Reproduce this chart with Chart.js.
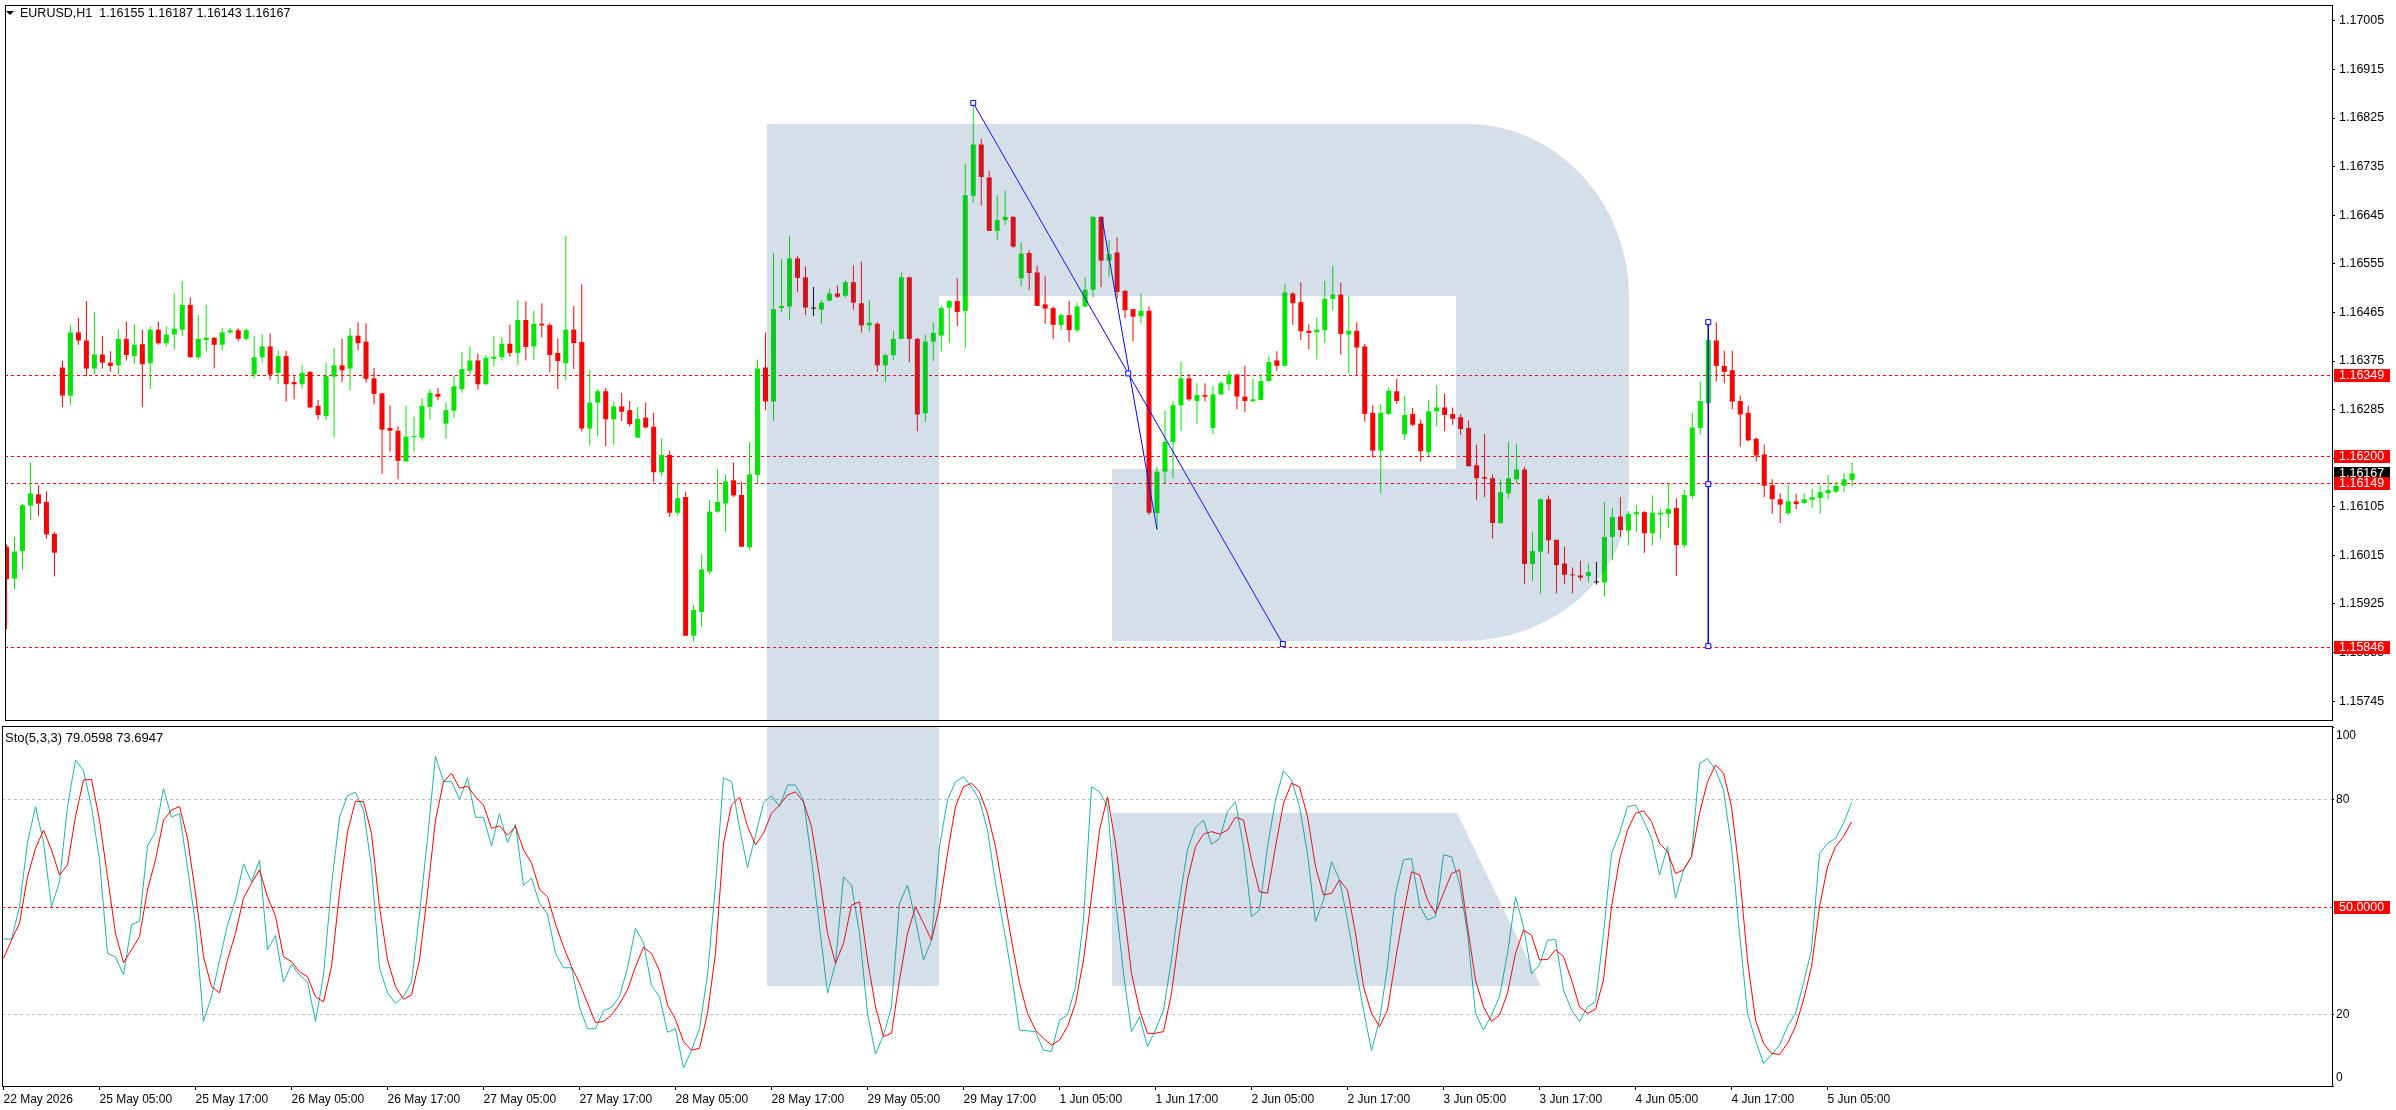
<!DOCTYPE html>
<html>
<head>
<meta charset="utf-8">
<script src="https://cdn.jsdelivr.net/npm/chart.js@4.4.1/dist/chart.umd.min.js"></script>
<style>
    html, body { margin: 0; padding: 0; background: #fff; }
    #wrap { position: relative; width: 2396px; height: 1110px; overflow: hidden; background: #fff; }
    canvas { position: absolute; left: 0; }
    #priceChart { top: 0; }
    #stochChart { top: 725px; }
</style>
</head>
<body>
<div id="wrap">
    <canvas id="priceChart" width="2396" height="725"></canvas>
    <canvas id="stochChart" width="2396" height="385"></canvas>
</div>
<script>
// EURUSD H1 candles, 22 May 17:00 .. 5 Jun 08:00
const symbolName = 'EURUSD,H1';
const open = [
    1.16031,1.15972,1.16023,1.16107,1.16128,1.16114,1.16055,1.16363,1.16311,1.16428,
    1.16413,1.16361,1.16387,1.16372,1.16367,1.16416,1.16384,1.16406,1.16371,1.16433,
    1.16408,1.16424,1.16433,1.16479,1.16382,1.16414,1.16418,1.16405,1.16428,1.16432,
    1.16416,1.16350,1.16382,1.16402,1.16353,1.16384,1.16336,1.16332,1.16355,1.16292,
    1.16273,1.16346,1.16367,1.16361,1.16422,1.16411,1.16343,1.16315,1.16251,1.16246,
    1.16189,1.16234,1.16233,1.16290,1.16314,1.16259,1.16283,1.16323,1.16357,1.16376,
    1.16332,1.16379,1.16382,1.16407,1.16390,1.16451,1.16402,1.16444,1.16442,1.16390,
    1.16371,1.16433,1.16410,1.16250,1.16298,1.16319,1.16267,1.16291,1.16284,1.16233,
    1.16270,1.16253,1.16169,1.16201,1.16094,1.16123,1.15866,1.15910,1.15985,1.16096,
    1.16111,1.16154,1.16127,1.16030,1.16164,1.16363,1.16300,1.16473,1.16476,1.16565,
    1.16530,1.16472,1.16470,1.16487,1.16500,1.16496,1.16521,1.16482,1.16441,1.16444,
    1.16367,1.16386,1.16416,1.16530,1.16416,1.16278,1.16411,1.16422,1.16474,1.16486,
    1.16468,1.16681,1.16776,1.16715,1.16616,1.16636,1.16642,1.16528,1.16575,1.16539,
    1.16480,1.16473,1.16442,1.16460,1.16432,1.16476,1.16507,1.16642,1.16561,1.16576,
    1.16505,1.16471,1.16458,1.16468,1.16093,1.16170,1.16225,1.16293,1.16343,1.16301,
    1.16312,1.16251,1.16313,1.16332,1.16350,1.16309,1.16301,1.16303,1.16338,1.16376,
    1.16366,1.16500,1.16484,1.16431,1.16428,1.16432,1.16490,1.16498,1.16424,1.16431,
    1.16402,1.16279,1.16209,1.16277,1.16319,1.16239,1.16277,1.16259,1.16206,1.16282,
    1.16289,1.16277,1.16271,1.16251,1.16182,1.16160,1.16158,1.16075,1.16130,1.16156,
    1.16174,1.15999,1.16022,1.16119,1.16044,1.16000,1.15979,1.15978,1.15977,1.15965,
    1.15965,1.16049,1.16087,1.16061,1.16091,1.16095,1.16056,1.16091,1.16092,1.16103,
    1.16034,1.16125,1.16251,1.16297,1.16413,1.16366,1.16358,1.16301,1.16279,1.16231,
    1.16202,1.16145,1.16119,1.16093,1.16115,1.16112,1.16118,1.16121,1.16130,1.16133,
    1.16144,1.16155
];
const high = [
    1.16035,1.16049,1.16110,1.16187,1.16145,1.16134,1.16059,1.16376,1.16442,1.16455,
    1.16486,1.16466,1.16422,1.16393,1.16433,1.16448,1.16444,1.16433,1.16439,1.16448,
    1.16439,1.16500,1.16523,1.16493,1.16460,1.16479,1.16419,1.16436,1.16436,1.16436,
    1.16435,1.16422,1.16424,1.16426,1.16394,1.16394,1.16347,1.16367,1.16356,1.16303,
    1.16372,1.16399,1.16416,1.16436,1.16447,1.16445,1.16362,1.16316,1.16293,1.16254,
    1.16292,1.16272,1.16306,1.16323,1.16325,1.16298,1.16347,1.16392,1.16402,1.16389,
    1.16386,1.16421,1.16419,1.16442,1.16488,1.16485,1.16468,1.16482,1.16445,1.16417,
    1.16606,1.16477,1.16517,1.16358,1.16323,1.16325,1.16300,1.16316,1.16301,1.16290,
    1.16298,1.16279,1.16231,1.16209,1.16148,1.16133,1.15923,1.16017,1.16118,1.16174,
    1.16165,1.16187,1.16152,1.16225,1.16378,1.16428,1.16575,1.16564,1.16607,1.16570,
    1.16550,1.16512,1.16488,1.16509,1.16515,1.16526,1.16552,1.16559,1.16488,1.16447,
    1.16389,1.16431,1.16539,1.16531,1.16418,1.16424,1.16447,1.16478,1.16488,1.16528,
    1.16741,1.16853,1.16786,1.16727,1.16682,1.16691,1.16644,1.16595,1.16580,1.16552,
    1.16532,1.16476,1.16463,1.16486,1.16483,1.16530,1.16644,1.16644,1.16598,1.16604,
    1.16506,1.16471,1.16500,1.16476,1.16179,1.16284,1.16301,1.16374,1.16351,1.16334,
    1.16334,1.16329,1.16338,1.16356,1.16350,1.16366,1.16342,1.16350,1.16385,1.16393,
    1.16518,1.16503,1.16521,1.16443,1.16456,1.16523,1.16552,1.16520,1.16495,1.16447,
    1.16407,1.16293,1.16295,1.16326,1.16342,1.16310,1.16288,1.16266,1.16303,1.16330,
    1.16315,1.16289,1.16277,1.16265,1.16220,1.16240,1.16165,1.16156,1.16226,1.16222,
    1.16179,1.16058,1.16121,1.16126,1.16044,1.16031,1.15993,1.16005,1.16000,1.16003,
    1.16114,1.16103,1.16123,1.16097,1.16108,1.16097,1.16126,1.16101,1.16147,1.16121,
    1.16136,1.16279,1.16337,1.16445,1.16447,1.16394,1.16394,1.16311,1.16292,1.16234,
    1.16220,1.16156,1.16130,1.16145,1.16129,1.16130,1.16138,1.16145,1.16164,1.16152,
    1.16167,1.16187
];
const low = [
    1.15878,1.15952,1.15989,1.16081,1.16088,1.16046,1.15976,1.16290,1.16294,1.16405,
    1.16347,1.16350,1.16361,1.16355,1.16350,1.16376,1.16369,1.16290,1.16323,1.16405,
    1.16402,1.16396,1.16421,1.16382,1.16378,1.16393,1.16361,1.16395,1.16425,1.16411,
    1.16413,1.16343,1.16372,1.16340,1.16332,1.16300,1.16304,1.16324,1.16287,1.16267,
    1.16266,1.16234,1.16336,1.16321,1.16395,1.16335,1.16295,1.16166,1.16207,1.16156,
    1.16189,1.16208,1.16228,1.16266,1.16303,1.16231,1.16270,1.16316,1.16350,1.16322,
    1.16330,1.16365,1.16376,1.16383,1.16368,1.16376,1.16377,1.16419,1.16354,1.16323,
    1.16339,1.16360,1.16245,1.16219,1.16235,1.16217,1.16220,1.16264,1.16254,1.16233,
    1.16250,1.16151,1.16161,1.16086,1.16089,1.15866,1.15855,1.15883,1.15980,1.16094,
    1.16059,1.16123,1.16031,1.16025,1.16150,1.16284,1.16264,1.16465,1.16451,1.16503,
    1.16460,1.16459,1.16444,1.16485,1.16492,1.16492,1.16470,1.16428,1.16430,1.16355,
    1.16336,1.16377,1.16416,1.16373,1.16245,1.16262,1.16375,1.16393,1.16409,1.16440,
    1.16399,1.16668,1.16663,1.16616,1.16599,1.16627,1.16584,1.16514,1.16507,1.16477,
    1.16444,1.16416,1.16432,1.16410,1.16428,1.16474,1.16493,1.16512,1.16531,1.16490,
    1.16454,1.16411,1.16445,1.16090,1.16063,1.16149,1.16158,1.16246,1.16301,1.16259,
    1.16300,1.16240,1.16313,1.16320,1.16286,1.16280,1.16298,1.16302,1.16337,1.16356,
    1.16365,1.16442,1.16414,1.16397,1.16378,1.16409,1.16469,1.16387,1.16352,1.16347,
    1.16263,1.16196,1.16130,1.16275,1.16296,1.16229,1.16254,1.16189,1.16199,1.16254,
    1.16245,1.16257,1.16238,1.16180,1.16118,1.16123,1.16046,1.16073,1.16121,1.16149,
    1.15962,1.15968,1.15944,1.16018,1.15945,1.15962,1.15945,1.15968,1.15965,1.15961,
    1.15939,1.16006,1.16049,1.16034,1.16058,1.16020,1.16034,1.16046,1.16066,1.15977,
    1.16029,1.16120,1.16239,1.16290,1.16337,1.16334,1.16285,1.16216,1.16226,1.16189,
    1.16123,1.16092,1.16075,1.16089,1.16101,1.16110,1.16103,1.16092,1.16119,1.16130,
    1.16132,1.16143
];
const close = [
    1.15971,1.16022,1.16108,1.16130,1.16111,1.16054,1.16020,1.16311,1.16428,1.16413,
    1.16361,1.16387,1.16372,1.16366,1.16416,1.16386,1.16405,1.16369,1.16433,1.16408,
    1.16424,1.16435,1.16479,1.16382,1.16416,1.16418,1.16405,1.16428,1.16432,1.16416,
    1.16432,1.16382,1.16402,1.16350,1.16384,1.16332,1.16332,1.16353,1.16289,1.16275,
    1.16347,1.16367,1.16358,1.16422,1.16408,1.16342,1.16314,1.16248,1.16246,1.16190,
    1.16235,1.16236,1.16292,1.16316,1.16309,1.16284,1.16328,1.16360,1.16376,1.16332,
    1.16381,1.16383,1.16407,1.16390,1.16451,1.16401,1.16444,1.16441,1.16386,1.16375,
    1.16433,1.16408,1.16250,1.16298,1.16319,1.16267,1.16291,1.16281,1.16258,1.16268,
    1.16252,1.16169,1.16201,1.16094,1.16121,1.15866,1.15914,1.15989,1.16096,1.16114,
    1.16152,1.16126,1.16031,1.16165,1.16361,1.16300,1.16471,1.16477,1.16565,1.16529,
    1.16474,1.16472,1.16483,1.16500,1.16494,1.16521,1.16483,1.16441,1.16446,1.16367,
    1.16386,1.16416,1.16530,1.16416,1.16276,1.16411,1.16427,1.16473,1.16486,1.16466,
    1.16682,1.16776,1.16716,1.16616,1.16636,1.16642,1.16587,1.16574,1.16538,1.16477,
    1.16472,1.16442,1.16460,1.16432,1.16476,1.16507,1.16642,1.16561,1.16573,1.16503,
    1.16469,1.16457,1.16468,1.16094,1.16170,1.16225,1.16293,1.16343,1.16304,1.16312,
    1.16309,1.16313,1.16334,1.16350,1.16309,1.16301,1.16304,1.16338,1.16373,1.16366,
    1.16502,1.16482,1.16430,1.16427,1.16433,1.16490,1.16498,1.16425,1.16431,1.16400,
    1.16277,1.16209,1.16279,1.16320,1.16301,1.16275,1.16257,1.16208,1.16282,1.16289,
    1.16275,1.16268,1.16249,1.16180,1.16158,1.16157,1.16075,1.16132,1.16158,1.16174,
    1.15999,1.16023,1.16119,1.16043,1.15997,1.15979,1.15978,1.15974,1.15984,1.15965,
    1.16049,1.16086,1.16062,1.16092,1.16095,1.16056,1.16094,1.16094,1.16101,1.16034,
    1.16127,1.16252,1.16301,1.16414,1.16366,1.16355,1.16300,1.16276,1.16228,1.16200,
    1.16144,1.16119,1.16109,1.16115,1.16110,1.16119,1.16123,1.16132,1.16136,1.16144,
    1.16156,1.16167
];

// Stochastic(5,3,3): %K main and %D signal
const stochK = [
    41,41,50,68,78,68,50,57,78,91,
    88,78,63,37,36,31,45,46,67,71,
    83,75,76,61,45,18,25,35,45,52,
    62,57,63,38,42,29,34,31,29,18,
    31,56,75,81,82,77,61,33,26,23,
    25,29,48,69,92,85,85,80,86,75,
    75,67,76,68,73,56,58,51,48,37,
    33,33,22,16,16,21,22,25,33,44,
    40,28,25,15,16,5,10,16,31,56,
    86,85,72,61,70,79,81,78,84,84,
    79.8,63.1,44.5,25.9,34.2,58.4,56.1,42.6,20.3,8.9,
    14.2,22.1,51,56.1,46.3,35.2,40.7,66.8,79.8,84.9,
    86.3,83.5,79.8,71.4,56.6,44.5,31.4,15.6,15.4,15.2,
    10,9.6,18.4,19.8,27.7,46.3,83.5,82.1,78,51.9,
    31.4,15.2,19.3,11,15.6,21.2,35.2,51.9,65.9,72.2,
    74.2,67.5,69.1,76.6,79.3,66.8,47.3,49.1,66.8,79.8,
    88,85.4,78,64.9,45.9,51.9,62.6,57.5,46.3,33.3,
    21.2,9.9,18.4,33.3,53.8,63.1,63.5,50.5,46.3,47.3,
    64.5,64,56.6,42.6,20.3,15.6,19.8,24.9,37,52.8,
    44.5,31.3,33.8,40.7,40.9,26.8,21.2,18,22.1,23.5,
    42.6,64.9,70.5,78,78.4,74.2,69.1,58.9,66.8,52.4,
    60.3,64,90,91.4,88.2,82.6,66.8,42.6,20.3,12.8,
    6.3,8.7,11.4,16.6,20.3,28.7,38,64.9,67.7,69.1,
    73.3,79.0598
];
const stochD = [
    35.6,40.7,45.4,58.4,66.3,71.4,65.9,58.9,61.7,75.2,
    85.4,85.6,74.2,58.4,42.6,34.4,38,41.7,54.7,63.1,
    74.2,77,78,69.1,53.8,36.1,27.7,26,35.2,42.6,
    52.4,56.6,60.3,52.8,47.4,36.1,34.7,31.9,30.5,24.9,
    23.5,33.3,53.8,71,79.5,79.3,70.5,50,35.2,27.7,
    24.2,25.4,35.2,53.8,74.2,84.9,87.3,83.1,83.7,80.7,
    78.4,71.9,72.6,70,72.4,65.9,62.3,54.9,52.8,45.2,
    38.9,33.3,28.7,23.1,17.7,18,19.8,22.9,26.8,33.3,
    38.7,37,32.2,22.6,18.6,12.4,10,10.5,20.3,37,
    67.7,78.4,80.6,72.4,67.3,70.5,76.1,78.4,81.2,82.1,
    79.3,72.4,58.4,42.6,34.2,39.8,50.5,51.4,35.2,22.1,
    13.8,14.7,29.6,42.6,50,45.4,40.7,50,64.9,78,
    83.5,84.5,82.1,76.1,66.8,53.8,40.7,28.7,20.3,15.6,
    13.3,11.4,12.8,16.6,23.1,35.2,52.8,71.4,80.7,67.7,
    50,31.4,21.2,14.7,14.7,15.2,25.9,42.6,57.5,66.8,
    70.3,71,70.3,71.4,75,74.2,63.1,54.2,53.8,66.8,
    78.9,84.5,83.5,75.2,61.2,53.3,53.8,57.5,54.7,42.6,
    27.7,20.3,16.6,21.2,35.2,48.2,59.8,58.9,51.9,48.2,
    53.8,59.3,60.3,44.5,29.6,22.1,18,19.8,25.9,37,
    43.5,42.1,35.2,35.3,38,36.1,29.6,22.1,20.3,21.4,
    29.6,50,63.1,71.4,76.1,76.8,73.8,67.7,65.4,59.3,
    60.3,64,76.1,84.9,89.6,87.3,78,59.3,35.2,18.4,
    11.9,9.1,8.8,11.9,16.6,24,33.3,50,61.2,66.8,
    69.6,73.6947
];

// axis ticks and labels
const priceTicks = [1.17005, 1.16915, 1.16825, 1.16735, 1.16645, 1.16555, 1.16465, 1.16375,
    1.16285, 1.16195, 1.16105, 1.16015, 1.15925, 1.15835, 1.15745];
const stochTicks = [0, 20, 80, 100];
const stochLevels = [20, 80];
const stochMid = 50;
const xTickIdx = [0, 12, 24, 36, 48, 60, 72, 84, 96, 108, 120, 132, 144, 156, 168, 180, 192, 204, 216, 228];
const xLabels = ['22 May 2026', '25 May 05:00', '25 May 17:00', '26 May 05:00', '26 May 17:00',
    '27 May 05:00', '27 May 17:00', '28 May 05:00', '28 May 17:00', '29 May 05:00', '29 May 17:00',
    '1 Jun 05:00', '1 Jun 17:00', '2 Jun 05:00', '2 Jun 17:00', '3 Jun 05:00', '3 Jun 17:00',
    '4 Jun 05:00', '4 Jun 17:00', '5 Jun 05:00'];

// horizontal levels and drawn trend lines
const levelPrices = [1.16349, 1.16200, 1.16149, 1.15846];
const trendIdx = [121, 140.4, 159.75];
const trendPrice = [1.16853, 1.16352, 1.15851];
const steepIdx = [137.1, 144];
const steepPrice = [1.16641, 1.16063];
const vlineIdx = [213, 213, 213];
const vlinePrice = [1.16447, 1.16147, 1.15847];

const FONT = '"Liberation Sans", Arial, sans-serif';
const UP = '#00E600';
const DOWN = '#FF0000';
const X_MIN = -0.1875;
const X_MAX = 291.0625;
const AXIS_W = 64;

Chart.defaults.font.family = FONT;
Chart.defaults.color = '#000';

const n = close.length;
const idx = close.map((_, i) => i);
const candleColor = idx.map(i => close[i] > open[i] ? UP : (close[i] < open[i] ? DOWN : '#000'));

function fixWidth(scale) {
    scale.width = AXIS_W;
    scale.paddingTop = 0;
    scale.paddingBottom = 0;
}

// RoboForex style watermark, page coordinates
function drawLogo(chart, offsetY) {
    const ctx = chart.ctx;
    const a = chart.chartArea;
    ctx.save();
    ctx.beginPath();
    ctx.rect(a.left, a.top, a.right - a.left, a.bottom - a.top);
    ctx.clip();
    ctx.translate(0, -offsetY);
    ctx.fillStyle = 'rgba(45, 95, 150, 0.2)';
    ctx.beginPath();
    ctx.rect(767, 124, 172, 862);
    ctx.moveTo(939, 124);
    ctx.lineTo(1467, 124);
    ctx.ellipse(1467, 297, 162, 173, 0, -Math.PI / 2, 0);
    ctx.lineTo(1629, 493);
    ctx.ellipse(1463, 493, 166, 148, 0, 0, Math.PI / 2);
    ctx.lineTo(1112, 641);
    ctx.lineTo(1112, 469);
    ctx.lineTo(1456, 469);
    ctx.lineTo(1456, 296);
    ctx.lineTo(939, 296);
    ctx.closePath();
    ctx.moveTo(1112, 813);
    ctx.lineTo(1457, 813);
    ctx.lineTo(1541, 986);
    ctx.lineTo(1112, 986);
    ctx.closePath();
    ctx.fill();
    ctx.restore();
}

function dashLine(ctx, a, y, color) {
    const yy = Math.round(y) + 0.5;
    ctx.save();
    ctx.strokeStyle = color;
    ctx.lineWidth = 1;
    ctx.setLineDash([3, 3]);
    ctx.beginPath();
    ctx.moveTo(a.left, yy);
    ctx.lineTo(a.right, yy);
    ctx.stroke();
    ctx.restore();
}

function tag(ctx, a, y, text, bg) {
    const yy = Math.round(y);
    ctx.save();
    ctx.fillStyle = bg;
    ctx.fillRect(a.right + 2, yy - 6, 56, 13);
    ctx.fillStyle = '#fff';
    ctx.font = '12.5px ' + FONT;
    ctx.textAlign = 'left';
    ctx.textBaseline = 'middle';
    ctx.fillText(text, a.right + 7, yy + 1);
    ctx.restore();
}

function frame(ctx, a) {
    ctx.save();
    ctx.strokeStyle = '#000';
    ctx.lineWidth = 1;
    ctx.strokeRect(a.left + 0.5, a.top + 0.5, a.right - a.left, a.bottom - a.top);
    ctx.restore();
}

const pricePanel = {
    id: 'pricePanel',
    beforeDatasetsDraw(chart) {
        const y = chart.scales.y;
        levelPrices.forEach(p => dashLine(chart.ctx, chart.chartArea, y.getPixelForValue(p), '#FF0000'));
    },
    afterDatasetsDraw(chart) {
        drawLogo(chart, 0);
    },
    afterDraw(chart) {
        const ctx = chart.ctx;
        const a = chart.chartArea;
        const y = chart.scales.y;
        frame(ctx, a);
        tag(ctx, a, y.getPixelForValue(close[n - 1]), close[n - 1].toFixed(5), '#000');
        levelPrices.forEach(p => tag(ctx, a, y.getPixelForValue(p), p.toFixed(5), '#FF0000'));
        // header
        ctx.save();
        ctx.fillStyle = '#000';
        ctx.beginPath();
        ctx.moveTo(6, 11);
        ctx.lineTo(14, 11);
        ctx.lineTo(10, 15);
        ctx.closePath();
        ctx.fill();
        ctx.font = '12.5px ' + FONT;
        ctx.textBaseline = 'alphabetic';
        ctx.fillText(symbolName + '  ' + [open[n - 1], high[n - 1], low[n - 1], close[n - 1]]
            .map(v => v.toFixed(5)).join(' '), 20, 17);
        ctx.restore();
    }
};

new Chart(document.getElementById('priceChart'), {
    type: 'bar',
    data: {
        datasets: [
            {
                type: 'line',
                data: trendIdx.map((x, k) => ({ x: x, y: trendPrice[k] })),
                borderColor: '#0000FF',
                borderWidth: 1,
                pointStyle: 'rect',
                pointRadius: 3.5,
                pointBackgroundColor: '#FFFFFF',
                pointBorderColor: '#0000FF',
                pointBorderWidth: 1,
                order: 0
            },
            {
                type: 'line',
                data: steepIdx.map((x, k) => ({ x: x, y: steepPrice[k] })),
                borderColor: '#0000FF',
                borderWidth: 1,
                pointRadius: 0,
                order: 0
            },
            {
                type: 'line',
                data: vlineIdx.map((x, k) => ({ x: x, y: vlinePrice[k] })),
                borderColor: '#0000FF',
                borderWidth: 1,
                pointStyle: 'rect',
                pointRadius: 3.5,
                pointBackgroundColor: '#FFFFFF',
                pointBorderColor: '#0000FF',
                pointBorderWidth: 1,
                order: 0
            },
            {
                data: idx.map(i => ({ x: i, y: [open[i], close[i]] })),
                backgroundColor: candleColor,
                barThickness: 5,
                grouped: false,
                minBarLength: 1,
                inflateAmount: 0,
                order: 1
            },
            {
                data: idx.map(i => ({ x: i, y: [low[i], high[i]] })),
                backgroundColor: candleColor,
                barThickness: 1,
                grouped: false,
                minBarLength: 1,
                inflateAmount: 0,
                order: 2
            }
        ]
    },
    options: {
        responsive: false,
        animation: false,
        events: [],
        layout: { padding: { left: 2, top: 2, bottom: 1, right: 0 } },
        plugins: { legend: { display: false }, tooltip: { enabled: false } },
        scales: {
            x: { type: 'linear', min: X_MIN, max: X_MAX, offset: false, display: false },
            y: {
                position: 'right',
                min: 1.1571015,
                max: 1.1703434,
                afterFit: fixWidth,
                afterBuildTicks: s => { s.ticks = priceTicks.map(v => ({ value: v })); },
                ticks: {
                    autoSkip: false,
                    padding: 4,
                    color: '#000',
                    font: { size: 12.5 },
                    callback: v => Number(v).toFixed(5)
                },
                grid: { drawOnChartArea: false, tickLength: 3, color: '#000' },
                border: { display: false }
            }
        }
    },
    plugins: [pricePanel]
});

const stochPanel = {
    id: 'stochPanel',
    beforeDatasetsDraw(chart) {
        const y = chart.scales.y;
        stochLevels.forEach(v => dashLine(chart.ctx, chart.chartArea, y.getPixelForValue(v), '#C0C0C0'));
        dashLine(chart.ctx, chart.chartArea, y.getPixelForValue(stochMid), '#FF0000');
    },
    afterDatasetsDraw(chart) {
        drawLogo(chart, 725);
    },
    afterDraw(chart) {
        const ctx = chart.ctx;
        const a = chart.chartArea;
        const y = chart.scales.y;
        frame(ctx, a);
        tag(ctx, a, y.getPixelForValue(stochMid), stochMid.toFixed(4), '#FF0000');
        ctx.save();
        ctx.fillStyle = '#000';
        ctx.font = '12px ' + FONT;
        ctx.textBaseline = 'middle';
        // top and bottom labels are kept inside the panel
        ctx.fillText(String(stochTicks[3]), a.right + 4, Math.max(y.getPixelForValue(100), a.top + 10));
        ctx.fillText(String(stochTicks[0]), a.right + 4, Math.min(y.getPixelForValue(0), a.bottom - 8));
        ctx.font = '13px ' + FONT;
        ctx.textBaseline = 'alphabetic';
        ctx.fillText('Sto(5,3,3) ' + stochK[n - 1].toFixed(4) + ' ' + stochD[n - 1].toFixed(4), 5, 17);
        ctx.restore();
    }
};

new Chart(document.getElementById('stochChart'), {
    type: 'line',
    data: {
        datasets: [
            {
                data: idx.map(i => ({ x: i, y: stochD[i] })),
                borderColor: '#FF0000',
                borderWidth: 1,
                pointRadius: 0,
                tension: 0,
                order: 0
            },
            {
                data: idx.map(i => ({ x: i, y: stochK[i] })),
                borderColor: '#20B2AA',
                borderWidth: 1,
                pointRadius: 0,
                tension: 0,
                order: 1
            }
        ]
    },
    options: {
        responsive: false,
        animation: false,
        events: [],
        layout: { padding: { left: 2, top: 1, bottom: 0, right: 0 } },
        plugins: { legend: { display: false }, tooltip: { enabled: false } },
        scales: {
            x: {
                type: 'linear',
                min: X_MIN,
                max: X_MAX,
                offset: false,
                afterFit: s => { s.height = 24; s.paddingLeft = 0; s.paddingRight = 0; },
                afterBuildTicks: s => { s.ticks = xTickIdx.map(v => ({ value: v })); },
                ticks: {
                    autoSkip: false,
                    maxRotation: 0,
                    align: 'start',
                    padding: 2,
                    color: '#000',
                    font: { size: 12 },
                    callback: (v, k) => xLabels[k]
                },
                grid: { drawOnChartArea: false, tickLength: 4, color: '#000', offset: false },
                border: { display: false }
            },
            y: {
                position: 'right',
                min: 0,
                max: 100.47,
                afterFit: fixWidth,
                afterBuildTicks: s => { s.ticks = stochTicks.map(v => ({ value: v })); },
                ticks: {
                    autoSkip: false,
                    padding: 2,
                    color: '#000',
                    font: { size: 12 },
                    callback: v => (v === 0 || v === 100) ? '' : String(v)
                },
                grid: { drawOnChartArea: false, tickLength: 2, color: '#000' },
                border: { display: false }
            }
        }
    },
    plugins: [stochPanel]
});
</script>
</body>
</html>
